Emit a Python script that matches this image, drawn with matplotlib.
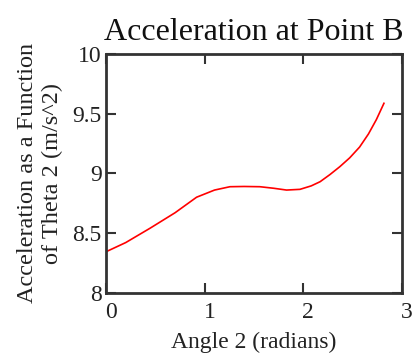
import matplotlib
matplotlib.use("Agg")
import matplotlib.pyplot as plt
import matplotlib.transforms as mtransforms
import numpy as np

angle = [0.0, 0.2, 0.446, 0.7, 0.918, 1.1, 1.256, 1.4, 1.56, 1.7, 1.83, 1.966, 2.08, 2.17, 2.27, 2.37, 2.47, 2.57, 2.66, 2.74, 2.817]
accel = [8.343, 8.42, 8.54, 8.67, 8.80, 8.86, 8.888, 8.89, 8.888, 8.875, 8.86, 8.866, 8.895, 8.93, 8.99, 9.056, 9.13, 9.22, 9.33, 9.45, 9.587]

xticks = [0, 1, 2, 3]
yticks = [8, 8.5, 9, 9.5, 10]
yticklabels = ["8", "8.5", "9", "9.5", "10"]

plt.rcParams['font.family'] = ['Liberation Serif', 'DejaVu Serif']

fig = plt.figure(figsize=(4.14, 3.62), dpi=100)
ax = fig.add_axes([106/414, 1-292.7/362, (402-106)/414, (292.7-54)/362])
ax.plot(angle, accel, color='#ff0000', lw=1.2)
ax.set_xlim(0, 3)
ax.set_ylim(8, 10)
ax.set_xticks(xticks)
ax.set_xticklabels([str(t) for t in xticks])
ax.set_yticks(yticks)
ax.set_yticklabels(yticklabels)
ax.tick_params(direction='in', length=7.5, width=1.5, top=True, right=True, labelsize=17, colors='#333333', labelcolor='#222222')
ax.tick_params(axis='x', pad=7)
ax.tick_params(axis='y', pad=3)
offset = mtransforms.ScaledTranslation(5/100, 0, fig.dpi_scale_trans)
for lab in ax.get_xticklabels():
    lab.set_transform(lab.get_transform() + offset)
for s in ax.spines.values():
    s.set_linewidth(2)
    s.set_color('#333333')
ax.set_title("Acceleration at Point B", fontsize=23, pad=10, color='#111111')
ax.set_xlabel("Angle 2 (radians)", fontsize=17, labelpad=6, color='#222222')
ax.set_ylabel("Acceleration as a Function\nof Theta 2 (m/s^2)", fontsize=17.5, labelpad=7, color='#222222', linespacing=1.2)
fig.savefig("out.png", dpi=100)
